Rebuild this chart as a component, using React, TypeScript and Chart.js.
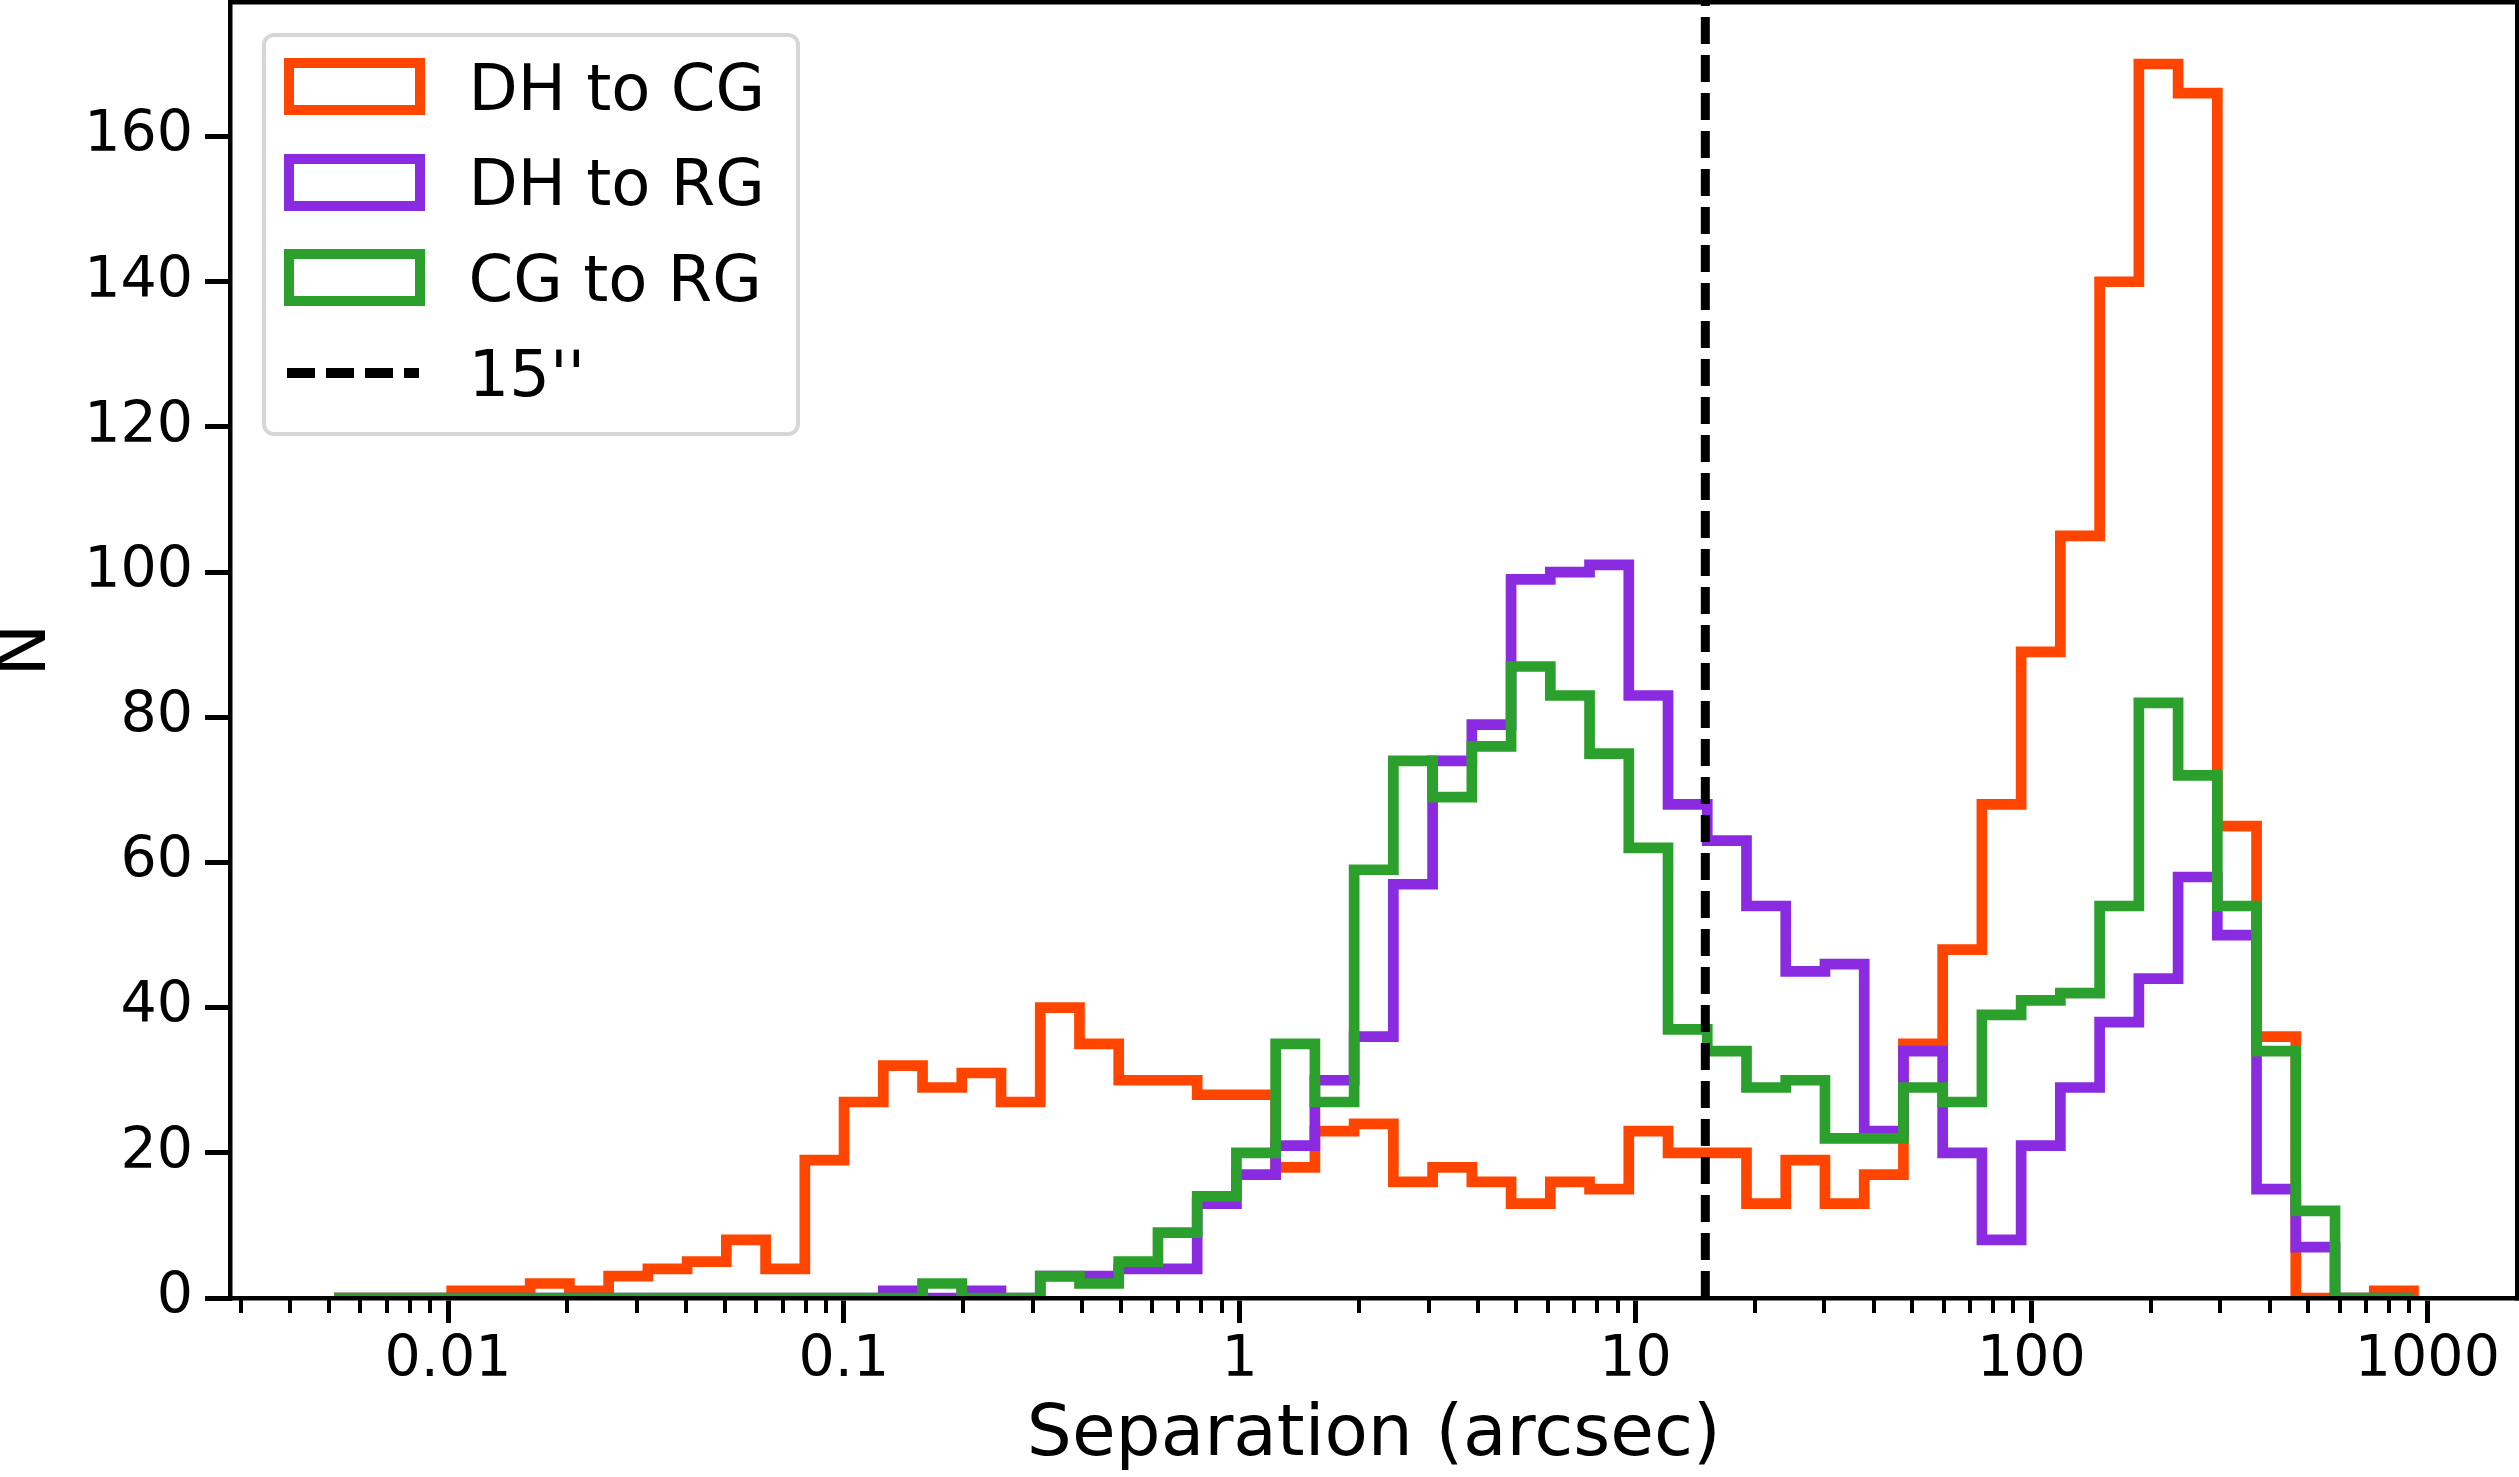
import { useEffect, useRef } from "react";
import Chart from "chart.js/auto";

// 53 log-spaced bins between these edges (log10 of arcsec)
const LOG_EDGE_MIN = -2.288;
const LOG_EDGE_MAX = 2.965;
const BIN_COUNT = 53;

const DH_TO_CG = [
  0, 0, 0, 1, 1, 2, 1, 3, 4, 5,
  8, 4, 19, 27, 32, 29, 31, 27, 40, 35,
  30, 30, 28, 28, 18, 23, 24, 16, 18, 16,
  13, 16, 15, 23, 20, 20, 13, 19, 13, 17,
  35, 48, 68, 89, 105, 140, 170, 166, 65, 36,
  0, 0, 1,
];
const DH_TO_RG = [
  0, 0, 0, 0, 0, 0, 0, 0, 0, 0,
  0, 0, 0, 0, 1, 0, 1, 0, 3, 3,
  4, 4, 13, 17, 21, 30, 36, 57, 74, 79,
  99, 100, 101, 83, 68, 63, 54, 45, 46, 23,
  34, 20, 8, 21, 29, 38, 44, 58, 50, 15,
  7, 0, 0,
];
const CG_TO_RG = [
  0, 0, 0, 0, 0, 0, 0, 0, 0, 0,
  0, 0, 0, 0, 0, 2, 0, 0, 3, 2,
  5, 9, 14, 20, 35, 27, 59, 74, 69, 76,
  87, 83, 75, 62, 37, 34, 29, 30, 22, 22,
  29, 27, 39, 41, 42, 54, 82, 72, 54, 34,
  12, 0, 0,
];

const SPLIT_ARCSEC = 15;
const SPLIT_LABEL = "15''";

const X_TICKS = [0.01, 0.1, 1, 10, 100, 1000];
const Y_TICKS = [0, 20, 40, 60, 80, 100, 120, 140, 160];
const X_MIN = 10 ** -2.5507;
const X_MAX = 10 ** 3.2277;
const Y_MAX = 178.5;

const SERIES = [
  { label: "DH to CG", color: "#ff4500", counts: DH_TO_CG },
  { label: "DH to RG", color: "#8a2be2", counts: DH_TO_RG },
  { label: "CG to RG", color: "#2ca02c", counts: CG_TO_RG },
];

const W = 2519;
const H = 1477;
const FONT = '"DejaVu Sans", sans-serif';
const HIST_LW = 10.7;
const SPLIT_LW = 9;
const SPLIT_DASH = [27, 11];
const SPINE = 4.5;

const edges = Array.from(
  { length: BIN_COUNT + 1 },
  (_, i) => 10 ** (LOG_EDGE_MIN + ((LOG_EDGE_MAX - LOG_EDGE_MIN) * i) / BIN_COUNT),
);

const minorTicks: number[] = [];
for (let e = -3; e <= 3; e++) {
  for (let m = 2; m <= 9; m++) {
    const v = m * 10 ** e;
    if (v > X_MIN && v < X_MAX) minorTicks.push(v);
  }
}

// matplotlib "step" outline: up at first edge, across each bin, down at last edge
function stepOutline(counts: number[]) {
  const pts = [{ x: edges[0], y: 0 }];
  counts.forEach((c, i) => pts.push({ x: edges[i], y: c }));
  pts.push({ x: edges[counts.length], y: 0 });
  return pts;
}

const noPad = (s: any) => {
  s.paddingLeft = 0;
  s.paddingRight = 0;
  s.paddingTop = 0;
  s.paddingBottom = 0;
};

function Legend() {
  const rowCenter = (i: number) => 49.7 + i * 95.5;
  return (
    <div
      style={{
        position: "absolute",
        left: 261.5,
        top: 33,
        width: 538,
        height: 403,
        boxSizing: "border-box",
        border: "4px solid #d6d6d6",
        borderRadius: 12,
        background: "rgba(255,255,255,0.8)",
        fontFamily: FONT,
        fontSize: 64,
        lineHeight: "64px",
        color: "#000",
      }}
    >
      {SERIES.map((s, i) => (
        <div key={s.label}>
          <div
            style={{
              position: "absolute",
              left: 18.1,
              top: rowCenter(i) - 28.5,
              width: 141,
              height: 57,
              boxSizing: "border-box",
              border: `${HIST_LW}px solid ${s.color}`,
            }}
          />
          <div
            style={{
              position: "absolute",
              left: 203,
              top: rowCenter(i) - 30.8,
              whiteSpace: "nowrap",
            }}
          >
            {s.label}
          </div>
        </div>
      ))}
      <svg
        width={132}
        height={12}
        style={{ position: "absolute", left: 21.9, top: rowCenter(3) - 6 }}
      >
        <line
          x1={0}
          y1={6}
          x2={132}
          y2={6}
          stroke="#000"
          strokeWidth={10}
          strokeDasharray="28 11"
        />
      </svg>
      <div
        style={{
          position: "absolute",
          left: 203,
          top: rowCenter(3) - 30.8,
          whiteSpace: "nowrap",
        }}
      >
        {SPLIT_LABEL}
      </div>
    </div>
  );
}

export default function App() {
  const canvasRef = useRef<HTMLCanvasElement>(null);
  const chartRef = useRef<Chart | null>(null);

  useEffect(() => {
    if (!canvasRef.current) return;
    if (chartRef.current) chartRef.current.destroy();

    Chart.defaults.font.family = FONT;
    Chart.defaults.color = "#000";

    const border = { display: true, color: "#000", width: SPINE, z: 1 };
    const hidden = {
      ticks: { display: false },
      grid: { display: false, drawTicks: false, lineWidth: SPINE },
      border,
    };

    chartRef.current = new Chart(canvasRef.current, {
      type: "line",
      data: {
        datasets: [
          ...SERIES.map((s, k) => ({
            label: s.label,
            data: stepOutline(s.counts),
            borderColor: s.color,
            borderWidth: HIST_LW,
            stepped: true,
            pointRadius: 0,
            fill: false,
            borderJoinStyle: "miter" as const,
            borderCapStyle: "butt" as const,
            order: 4 - k,
            xAxisID: "x",
            yAxisID: "y",
          })),
          {
            label: SPLIT_LABEL,
            data: [
              { x: SPLIT_ARCSEC, y: 0 },
              { x: SPLIT_ARCSEC, y: Y_MAX },
            ],
            borderColor: "#000",
            borderWidth: SPLIT_LW,
            borderDash: SPLIT_DASH,
            borderCapStyle: "butt" as const,
            pointRadius: 0,
            fill: false,
            order: 1,
            xAxisID: "x",
            yAxisID: "y",
          },
        ],
      },
      options: {
        responsive: false,
        animation: false,
        events: [],
        layout: { padding: { left: 0, right: 1.5, top: 2.3, bottom: 0 } },
        plugins: {
          legend: { display: false },
          tooltip: { enabled: false },
        },
        scales: {
          x: {
            type: "logarithmic",
            position: "bottom",
            weight: 1,
            min: X_MIN,
            max: X_MAX,
            afterBuildTicks: (s: any) => {
              s.ticks = X_TICKS.map((v) => ({ value: v }));
            },
            afterFit: (s: any) => {
              s.height = 179;
              noPad(s);
            },
            ticks: {
              autoSkip: false,
              maxRotation: 0,
              padding: 4,
              color: "#000",
              font: { size: 57, lineHeight: 1.2 },
              callback: (v: any) => String(v),
            },
            grid: {
              drawOnChartArea: false,
              tickLength: 25,
              tickWidth: 5,
              lineWidth: 5,
              tickColor: "#000",
            },
            border,
            title: {
              display: true,
              text: "Separation (arcsec)",
              color: "#000",
              font: { size: 71, lineHeight: "80px" },
              padding: { top: 0, bottom: 0 },
            },
          },
          xMinor: {
            type: "logarithmic",
            position: "bottom",
            weight: 0,
            min: X_MIN,
            max: X_MAX,
            afterBuildTicks: (s: any) => {
              s.ticks = minorTicks.map((v) => ({ value: v }));
            },
            afterFit: (s: any) => {
              s.height = 0;
              noPad(s);
            },
            ticks: { display: false, autoSkip: false },
            grid: {
              drawOnChartArea: false,
              tickLength: 15,
              tickWidth: 4,
              lineWidth: 4,
              tickColor: "#000",
            },
            border: { display: false },
          },
          y: {
            type: "linear",
            position: "left",
            min: 0,
            max: Y_MAX,
            afterBuildTicks: (s: any) => {
              s.ticks = Y_TICKS.map((v) => ({ value: v }));
            },
            afterFit: (s: any) => {
              s.width = 230;
              noPad(s);
            },
            ticks: {
              autoSkip: false,
              padding: 12,
              color: "#000",
              font: { size: 57, lineHeight: 1.2 },
              callback: (v: any) => String(v),
            },
            grid: {
              drawOnChartArea: false,
              tickLength: 25,
              tickWidth: 5,
              lineWidth: 5,
              tickColor: "#000",
            },
            border,
            title: {
              display: true,
              text: "N",
              color: "#000",
              font: { size: 71, lineHeight: "54px" },
              padding: { top: 0, bottom: 0 },
            },
          },
          xTop: {
            type: "linear",
            position: "top",
            ...hidden,
            afterFit: (s: any) => {
              s.height = 0;
              noPad(s);
            },
          },
          yRight: {
            type: "linear",
            position: "right",
            ...hidden,
            afterFit: (s: any) => {
              s.width = 0;
              noPad(s);
            },
          },
        },
      } as any,
    });

    return () => {
      if (chartRef.current) {
        chartRef.current.destroy();
        chartRef.current = null;
      }
    };
  }, []);

  return (
    <div
      style={{
        position: "absolute",
        left: 0,
        top: 0,
        width: W,
        height: H,
        background: "#fff",
        overflow: "hidden",
      }}
    >
      <canvas
        ref={canvasRef}
        width={W}
        height={H}
        style={{ display: "block", width: W, height: H }}
        role="img"
        aria-label="Step histograms of separations in arcsec"
      />
      <Legend />
    </div>
  );
}
